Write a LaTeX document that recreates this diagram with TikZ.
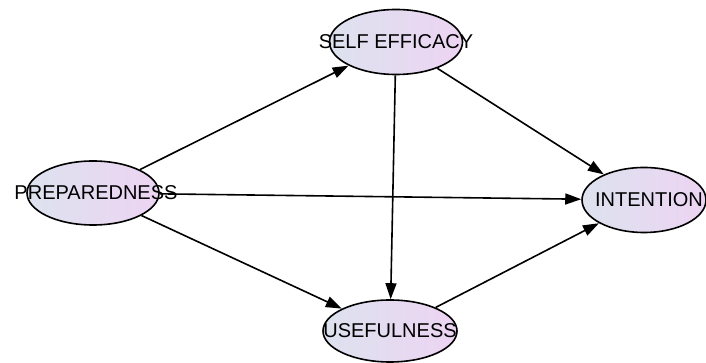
\documentclass[tikz,border=0pt]{standalone}
\usepackage{fontspec}
\setmainfont{Liberation Sans}
\usetikzlibrary{shapes.geometric,arrows.meta}
\definecolor{leftc}{HTML}{DDE2EE}
\definecolor{rightc}{HTML}{EDD4F3}
\tikzset{
  construct/.style={ellipse, draw, line width=1.6pt, left color=leftc, right color=rightc, inner sep=0pt},
  every label/.append style={font=\fontsize{20}{20}\selectfont, inner sep=0pt},
  link/.style={line width=1.6pt, -{Triangle[length=16pt,width=11pt]}}
}
\begin{document}
\begin{tikzpicture}[x=1pt,y=1pt]
\useasboundingbox (0,0) rectangle (706,363);
\node[construct, minimum width=132pt, minimum height=64pt, label={[xshift=3pt]center:PREPAREDNESS}] (prep) at (93,170) {};
\node[construct, minimum width=133pt, minimum height=65pt, label={center:SELF EFFICACY}] (self) at (396,321) {};
\node[construct, minimum width=124pt, minimum height=65pt, label={[xshift=5pt]center:INTENTION}] (inten) at (644,163) {};
\node[construct, minimum width=134pt, minimum height=62pt, label={center:USEFULNESS}] (use) at (390,32) {};
\draw[link] (prep) -- (self);
\draw[link] (prep) -- (inten);
\draw[link] (prep) -- (use);
\draw[link] (self) -- (inten);
\draw[link] (self) -- (use);
\draw[link] (use) -- (inten);
\end{tikzpicture}
\end{document}
